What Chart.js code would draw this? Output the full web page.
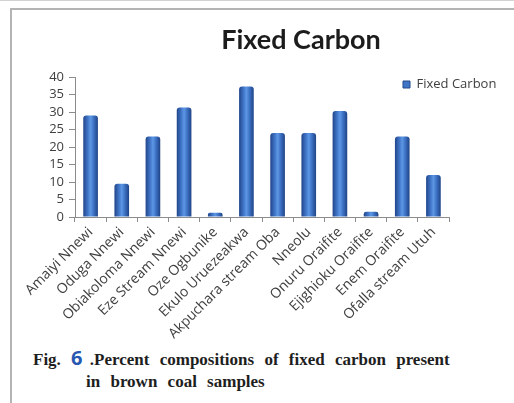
<!DOCTYPE html>
<html>
<head>
<meta charset="utf-8">
<script src="https://cdn.jsdelivr.net/npm/chart.js@4/dist/chart.umd.min.js"></script>
<style>
  html, body { margin: 0; padding: 0; background: #fff; }
  body { width: 514px; height: 403px; overflow: hidden; position: relative; }
  .rule { position: absolute; background: #b4b4b4; }
  #wrap { position: absolute; left: 11px; top: 10px; width: 580px; height: 330px; }
  .caption {
    position: absolute; left: 33px; top: 347px; width: 480px;
    font-family: "Liberation Serif", "DejaVu Serif", serif; font-weight: bold;
    font-size: 17px; line-height: 22px; color: #1e1e1e; word-spacing: 6px;
    white-space: nowrap;
  }
  .caption .num { color: #2757b0; font-family: "Open Sans", sans-serif; font-size: 20px; }
  .caption .l2 { padding-left: 53px; }
</style>
</head>
<body>
<div class="rule" style="left:0;top:0;width:514px;height:1px;background:#d2d2d2"></div>
<div class="rule" style="left:10px;top:8px;width:504px;height:2px"></div>
<div class="rule" style="left:10px;top:8px;width:2px;height:395px"></div>
<div id="wrap"><canvas id="c" width="580" height="330"></canvas></div>
<div class="caption">Fig. <span class="num" style="margin-right:-3px">6</span> .Percent compositions of fixed carbon present<br><span class="l2">in brown coal samples</span></div>
<script>
// Sample locations and their fixed carbon content (%)
const sites = [
  "Amaiyi Nnewi", "Oduga Nnewi", "Obiakoloma Nnewi", "Eze Stream Nnewi",
  "Oze Ogbunike", "Ekulo Uruezeakwa", "Akpuchara stream Oba", "Nneolu",
  "Onuru Oraifite", "Ejighioku Oraifite", "Enem Oraifite", "Ofalla stream Utuh"
];
const fixedCarbon = [29, 9.5, 23, 31.3, 1.2, 37.3, 24, 24, 30.3, 1.5, 23, 12];
const yTicks = [0, 5, 10, 15, 20, 25, 30, 35, 40];

const BAR_PCT = 0.47;

// Cylinder-like shading across each bar
function barFill(ctx) {
  const chart = ctx.chart;
  const xs = chart.scales && chart.scales.x;
  if (!chart.chartArea || !xs || ctx.dataIndex === undefined) return '#3f74c6';
  const cx = xs.getPixelForValue(ctx.dataIndex);
  const half = (xs.width / sites.length) * BAR_PCT / 2;
  const g = chart.ctx.createLinearGradient(cx - half, 0, cx + half, 0);
  g.addColorStop(0, '#21458a');
  g.addColorStop(0.3, '#3f74c6');
  g.addColorStop(0.5, '#5d97e4');
  g.addColorStop(0.72, '#3c70c2');
  g.addColorStop(1, '#1f4386');
  return g;
}

// Centres the title on the whole canvas and puts the legend at the upper right
const blockPlacer = {
  id: 'blockPlacer',
  afterLayout(chart) {
    const t = chart.titleBlock;
    if (t) { t.left = 0; t.right = chart.width; t.width = chart.width; }
    const lg = chart.legend;
    if (lg) {
      const w = lg.width, h = lg.height;
      lg.left = 382; lg.top = 58;
      lg.right = lg.left + w; lg.bottom = lg.top + h;
    }
  }
};

const axisGray = '#8c8c8c';

new Chart(document.getElementById('c'), {
  type: 'bar',
  data: {
    labels: sites,
    datasets: [{
      label: 'Fixed Carbon',
      data: fixedCarbon,
      backgroundColor: barFill,
      borderWidth: 0,
      borderRadius: { topLeft: 3, topRight: 3 },
      borderSkipped: 'bottom',
      barPercentage: BAR_PCT,
      categoryPercentage: 1
    }]
  },
  options: {
    responsive: false,
    animation: false,
    layout: { padding: { left: 14, right: 142, top: 0, bottom: 0 } },
    plugins: {
      title: {
        display: true,
        text: 'Fixed Carbon',
        color: '#1c1c1c',
        font: { family: "Lato, 'Open Sans', sans-serif", size: 27, weight: 'bold' },
        padding: { top: 14, bottom: 20.6 }
      },
      legend: {
        position: 'chartArea',
        align: 'start',
        labels: {
          boxWidth: 7,
          boxHeight: 7,
          color: '#404040',
          font: { family: "'Open Sans', sans-serif", size: 13 },
          generateLabels(chart) {
            const items = Chart.defaults.plugins.legend.labels.generateLabels(chart);
            items.forEach(it => { it.fillStyle = '#3f74c6'; it.strokeStyle = '#23488c'; it.lineWidth = 1; });
            return items;
          }
        }
      },
      tooltip: { enabled: false }
    },
    scales: {
      x: {
        offset: true,
        afterFit(s) { s.height = 123; },
        grid: { display: true, drawOnChartArea: false, drawTicks: true, tickLength: 5, color: axisGray, offset: true },
        border: { display: true, color: axisGray },
        ticks: {
          autoSkip: false, minRotation: 45, maxRotation: 45,
          color: '#404040', font: { family: "'Open Sans', sans-serif", size: 14 }, padding: 2
        }
      },
      y: {
        min: 0, max: 40,
        afterFit(s) { s.width = 50; },
        afterBuildTicks(s) { s.ticks = yTicks.map(v => ({ value: v })); },
        grid: { display: true, drawOnChartArea: false, drawTicks: true, tickLength: 6, color: axisGray },
        border: { display: true, color: axisGray },
        ticks: {
          autoSkip: false, color: '#404040',
          font: { family: "'Open Sans', sans-serif", size: 13, lineHeight: 1 }, padding: 5
        }
      }
    }
  },
  plugins: [blockPlacer]
});
</script>
</body>
</html>
